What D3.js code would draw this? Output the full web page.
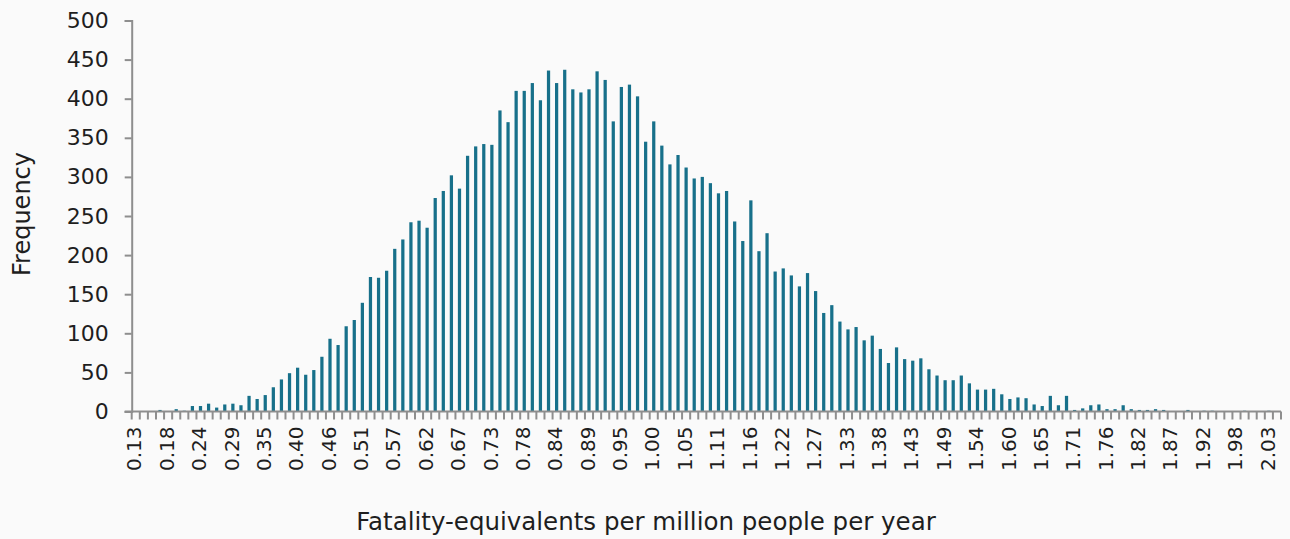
<!DOCTYPE html>
<html>
<head>
<meta charset="utf-8">
<script src="https://cdn.jsdelivr.net/npm/d3@7"></script>
<style>
  html, body { margin: 0; padding: 0; background: #fafafa; }
  svg { display: block; }
  text { font-family: "DejaVu Sans", sans-serif; fill: #1e1e1e; }
</style>
</head>
<body>
<svg id="chart" width="1290" height="539"></svg>
<script>
// Histogram of simulated outcomes: one count per bin (142 bins)
const frequency = [
  0, 0, 0, 2, 0, 3, 1, 7, 7, 10,
  5, 9, 10, 8, 20, 16, 21, 31, 41, 49,
  56, 47, 53, 70, 93, 85, 109, 117, 139, 172,
  171, 180, 208, 220, 242, 244, 235, 273, 282, 302,
  285, 327, 339, 342, 341, 385, 370, 410, 410, 420,
  398, 436, 420, 437, 412, 408, 412, 435, 424, 371,
  415, 418, 403, 345, 371, 340, 316, 328, 312, 298,
  300, 292, 279, 282, 243, 218, 270, 205, 228, 179,
  183, 174, 160, 177, 154, 126, 136, 115, 105, 108,
  91, 97, 80, 62, 82, 67, 65, 68, 54, 46,
  40, 40, 46, 36, 28, 28, 29, 22, 16, 18,
  17, 9, 7, 20, 8, 20, 2, 4, 8, 9,
  3, 3, 8, 3, 2, 2, 3, 2, 0, 0,
  2, 0, 1, 1, 0, 0, 0, 1, 0, 0,
  1, 0
];

// Category labels, printed on every fourth bin
const tickLabels = [
  "0.13", "0.18", "0.24", "0.29", "0.35", "0.40", "0.46", "0.51", "0.57",
  "0.62", "0.67", "0.73", "0.78", "0.84", "0.89", "0.95", "1.00", "1.05",
  "1.11", "1.16", "1.22", "1.27", "1.33", "1.38", "1.43", "1.49", "1.54",
  "1.60", "1.65", "1.71", "1.76", "1.82", "1.87", "1.92", "1.98", "2.03"
];
const labelEvery = 4;

const yTicks = [0, 50, 100, 150, 200, 250, 300, 350, 400, 450, 500];

const xTitle = "Fatality-equivalents per million people per year";
const yTitle = "Frequency";

const svg = d3.select("#chart");
const plotLeft = 131.7, plotRight = 1281, plotTop = 20.5, plotBottom = 411.5;
const barColor = "#17708a";
const axisColor = "#8e8e8e";

const bins = d3.range(frequency.length);

const x = d3.scaleBand()
  .domain(bins)
  .range([plotLeft, plotRight])
  .paddingInner(0.6)
  .paddingOuter(0.3);

const y = d3.scaleLinear()
  .domain([0, 500])
  .range([plotBottom, plotTop]);

// Bars
svg.append("g")
  .selectAll("rect")
  .data(bins)
  .join("rect")
  .attr("x", i => x(i))
  .attr("width", x.bandwidth())
  .attr("y", i => y(frequency[i]))
  .attr("height", i => y(0) - y(frequency[i]))
  .attr("fill", barColor);

// Y axis
const yAxis = svg.append("g")
  .attr("transform", `translate(${plotLeft},0)`)
  .call(d3.axisLeft(y).tickValues(yTicks).tickSize(7).tickPadding(16).tickFormat(d3.format("d")));
yAxis.select(".domain").attr("stroke", axisColor).attr("stroke-width", 2);
yAxis.selectAll(".tick line").attr("stroke", axisColor).attr("stroke-width", 2);
yAxis.selectAll(".tick text")
  .style("font-size", "22px")
  .style("font-family", "'DejaVu Sans', sans-serif")
  .attr("fill", "#1e1e1e");

// X axis: line, tick marks between bins, rotated labels
const xg = svg.append("g");
const step = x.step();
xg.append("line")
  .attr("x1", plotLeft - 7).attr("x2", plotRight)
  .attr("y1", plotBottom).attr("y2", plotBottom)
  .attr("stroke", axisColor).attr("stroke-width", 2);

xg.selectAll("line.tick")
  .data(d3.range(frequency.length + 1))
  .join("line")
  .attr("class", "tick")
  .attr("x1", i => plotLeft + i * step)
  .attr("x2", i => plotLeft + i * step)
  .attr("y1", plotBottom)
  .attr("y2", plotBottom + 8)
  .attr("stroke", axisColor)
  .attr("stroke-width", 2);

xg.selectAll("text")
  .data(bins.filter(i => i % labelEvery === 0))
  .join("text")
  .attr("transform", i => `translate(${x(i) + x.bandwidth() / 2 - 1.5},${plotBottom + 15}) rotate(-90)`)
  .attr("text-anchor", "end")
  .attr("dy", "0.36em")
  .style("font-size", "20px")
  .text(i => tickLabels[i / labelEvery]);

// Axis titles
svg.append("text")
  .attr("x", 646)
  .attr("y", 530)
  .attr("text-anchor", "middle")
  .style("font-size", "24.5px")
  .text(xTitle);

svg.append("text")
  .attr("transform", `translate(30,214) rotate(-90)`)
  .attr("text-anchor", "middle")
  .style("font-size", "24px")
  .text(yTitle);
</script>
</body>
</html>
